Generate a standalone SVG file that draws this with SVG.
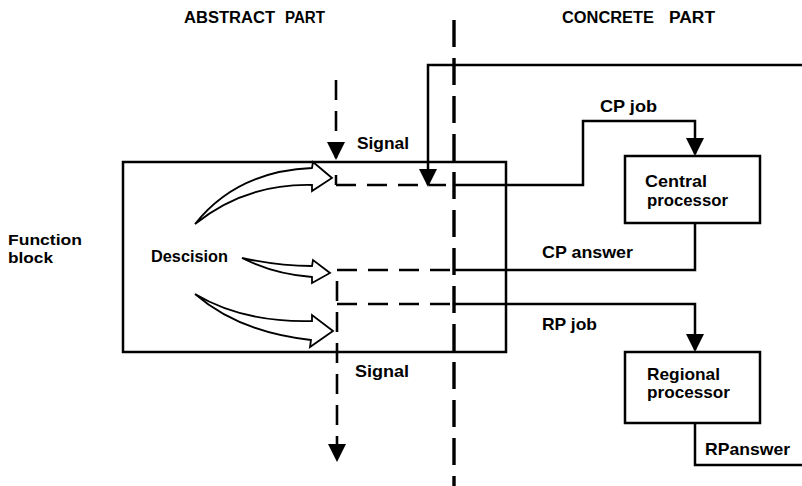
<svg xmlns="http://www.w3.org/2000/svg" width="802" height="486" viewBox="0 0 802 486">
<style>
text{font-family:"Liberation Sans",Arial,sans-serif;font-weight:bold;font-size:17px;fill:#000}
.hd{font-size:16px}
.fb{font-size:15px}
.ln{fill:none;stroke:#000;stroke-width:2.5}
.dsh{fill:none;stroke:#000;stroke-width:2.6;stroke-dasharray:20 11}
.div{fill:none;stroke:#000;stroke-width:3.4;stroke-dasharray:27 11}
.box{fill:none;stroke:#000;stroke-width:2.5}
.hol{fill:#fff;stroke:#000;stroke-width:1.8;stroke-linejoin:miter}
</style>
<defs>
<marker id="ah" viewBox="0 0 18 18" refX="16" refY="9" markerWidth="18" markerHeight="18" orient="auto" markerUnits="userSpaceOnUse">
<path d="M0,0 L18,9 L0,18 Z" fill="#000"/>
</marker>
</defs>
<rect width="802" height="486" fill="#fff"/>
<g id="headings">
<text class="hd" x="184" y="23" textLength="91" lengthAdjust="spacingAndGlyphs">ABSTRACT</text>
<text class="hd" x="285" y="23" textLength="40" lengthAdjust="spacingAndGlyphs">PART</text>
<text class="hd" x="562" y="23" textLength="92" lengthAdjust="spacingAndGlyphs">CONCRETE</text>
<text class="hd" x="669" y="23" textLength="46" lengthAdjust="spacingAndGlyphs">PART</text>
</g>
<g id="function-block">
<rect class="box" x="123" y="162" width="383" height="190"/>
<text class="fb" x="8" y="245" textLength="74" lengthAdjust="spacingAndGlyphs">Function</text>
<text class="fb" x="8" y="263" textLength="45" lengthAdjust="spacingAndGlyphs">block</text>
<text x="151" y="262" textLength="77" lengthAdjust="spacingAndGlyphs">Descision</text>
<path class="hol" d="M195,224 C225,186 265,170 312,168 L313,162 L332,178 L312,191 L312,185 C270,184 230,196 195,224 Z"/>
<path class="hol" d="M242,258 C265,263 290,266 312,266 L313,260 L330,273 L312,283 L312,277 C285,275 262,268 242,258 Z"/>
<path class="hol" d="M195,294 C230,315 270,322 312,321 L312,315 L333,331 L310,347 L311,340 C265,335 225,320 195,294 Z"/>
</g>
<g id="central-processor">
<rect class="box" x="625" y="156" width="135" height="67"/>
<text x="645" y="187" textLength="62" lengthAdjust="spacingAndGlyphs">Central</text>
<text x="647" y="206" textLength="81" lengthAdjust="spacingAndGlyphs">processor</text>
</g>
<g id="regional-processor">
<rect class="box" x="625" y="352" width="135" height="71"/>
<text x="647" y="380" textLength="73" lengthAdjust="spacingAndGlyphs">Regional</text>
<text x="647" y="398" textLength="83" lengthAdjust="spacingAndGlyphs">processor</text>
</g>
<g id="connectors">
<path class="div" d="M454,20 V486"/>
<path class="ln" d="M802,65 H428 V185" marker-end="url(#ah)"/>
<path class="dsh" d="M336,80 V158" marker-end="url(#ah)"/>
<path class="ln" d="M336,175 V185"/>
<path class="dsh" d="M336,185 H446"/>
<path class="ln" d="M455,185 H583 V121 H695 V154" marker-end="url(#ah)"/>
<path class="ln" d="M695,223 V270 H455"/>
<path class="ln" d="M455,304 H695 V350" marker-end="url(#ah)"/>
<path class="ln" d="M695,423 V465 H802"/>
<path class="dsh" d="M450,270 H337 V460" marker-end="url(#ah)"/>
<path class="dsh" d="M337,304 H450"/>
<text x="357" y="149" textLength="52" lengthAdjust="spacingAndGlyphs">Signal</text>
<text x="355" y="377" textLength="54" lengthAdjust="spacingAndGlyphs">Signal</text>
<text x="600" y="112" textLength="57" lengthAdjust="spacingAndGlyphs">CP job</text>
<text x="542" y="258" textLength="91" lengthAdjust="spacingAndGlyphs">CP answer</text>
<text x="542" y="330" textLength="55" lengthAdjust="spacingAndGlyphs">RP job</text>
<text x="705" y="455" textLength="85" lengthAdjust="spacingAndGlyphs">RPanswer</text>
</g>
</svg>
